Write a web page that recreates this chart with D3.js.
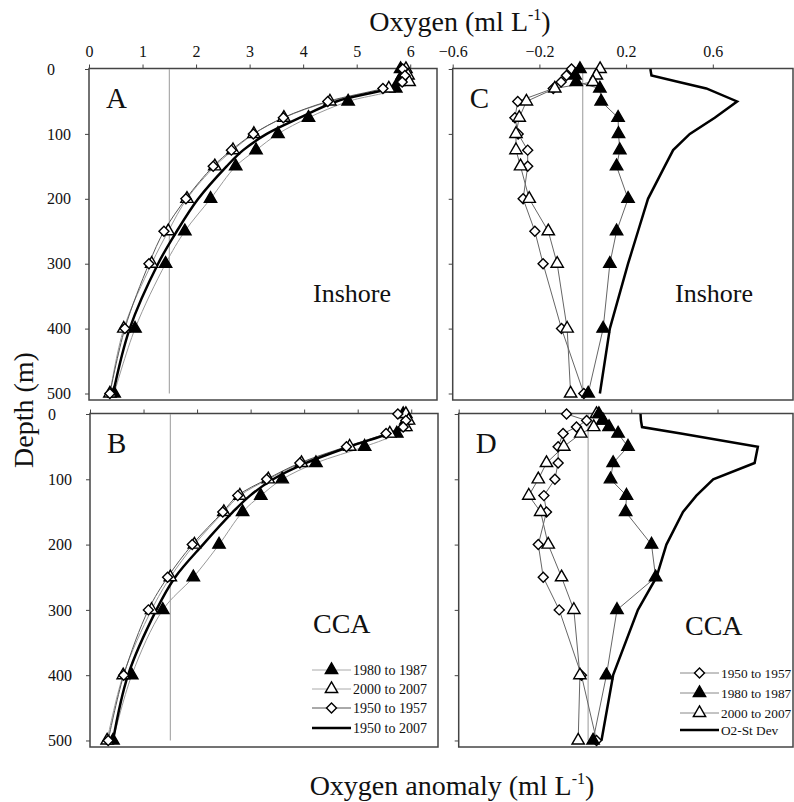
<!DOCTYPE html>
<html>
<head>
<meta charset="utf-8">
<title>Oxygen profiles</title>
<script src="https://d3js.org/d3.v7.min.js"></script>
<style>
body { margin: 0; background: #fff; }
text { font-family: "Liberation Serif", "Times New Roman", serif; fill: #111; }
</style>
</head>
<body>
<div id="chart"></div>
<script>
// depth levels (m)
var depth = [0, 10, 20, 30, 50, 75, 100, 125, 150, 200, 250, 300, 400, 500];

// A: Inshore oxygen (ml/L)
var o2A_1980 = [5.82, 5.85, 5.78, 5.73, 4.84, 4.10, 3.53, 3.12, 2.74, 2.27, 1.79, 1.43, 0.86, 0.47];
var o2A_2000 = [5.92, 5.96, 5.98, 5.60, 4.50, 3.64, 3.08, 2.69, 2.35, 1.83, 1.48, 1.17, 0.65, 0.39];
var o2A_1950 = [5.86, 5.90, 5.85, 5.49, 4.46, 3.63, 3.07, 2.66, 2.32, 1.81, 1.40, 1.12, 0.67, 0.39];
var o2A_mean = [5.86, 5.88, 5.84, 5.60, 4.62, 3.94, 3.32, 2.88, 2.57, 2.04, 1.64, 1.29, 0.76, 0.45];

// B: CCA oxygen (ml/L)
var o2B_1980 = [5.85, 5.90, 5.85, 5.73, 5.13, 4.22, 3.59, 3.19, 2.85, 2.41, 1.93, 1.36, 0.78, 0.43];
var o2B_2000 = [5.90, 5.95, 5.90, 5.60, 4.85, 3.95, 3.33, 2.80, 2.50, 1.95, 1.50, 1.15, 0.62, 0.32];
var o2B_1950 = [5.75, 5.90, 5.85, 5.53, 4.79, 3.92, 3.30, 2.76, 2.48, 1.91, 1.45, 1.09, 0.63, 0.34];
var o2B_mean = [5.80, 5.90, 5.85, 5.58, 4.85, 4.04, 3.42, 2.99, 2.67, 2.11, 1.59, 1.24, 0.71, 0.43];

// C: Inshore anomaly (ml/L)
var anC_1950 = [-0.052, -0.075, -0.10, -0.136, -0.30, -0.313, -0.298, -0.254, -0.254, -0.275, -0.221, -0.183, -0.098, 0.005];
var anC_1980 = [-0.013, -0.035, -0.03, 0.079, 0.085, 0.163, 0.165, 0.171, 0.156, 0.209, 0.156, 0.125, 0.094, 0.025];
var anC_2000 = [0.08, 0.063, 0.047, -0.129, -0.26, -0.293, -0.308, -0.308, -0.287, -0.247, -0.159, -0.118, -0.072, -0.056];
var sdC = [0.312, 0.317, 0.443, 0.57, 0.712, 0.609, 0.494, 0.417, 0.378, 0.301, 0.255, 0.209, 0.125, 0.079];

// D: CCA anomaly (ml/L)
var anD_1950 = [-0.10, -0.007, -0.054, -0.116, -0.139, -0.139, -0.154, -0.205, -0.193, -0.231, -0.208, -0.134, -0.031, 0.039];
var anD_1980 = [0.05, 0.07, 0.097, 0.139, 0.185, 0.116, 0.104, 0.178, 0.174, 0.294, 0.313, 0.134, 0.085, 0.023];
var anD_2000 = [0.039, 0.067, 0.026, -0.034, -0.113, -0.193, -0.231, -0.275, -0.22, -0.185, -0.123, -0.066, -0.038, -0.046];
var sdD = [0.243, 0.245, 0.25, 0.43, 0.787, 0.772, 0.58, 0.502, 0.44, 0.363, 0.317, 0.231, 0.116, 0.062];

var o2Ticks = [0, 1, 2, 3, 4, 5, 6];
var anTicks = [-0.6, -0.2, 0.2, 0.6];
var depthTicks = [0, 100, 200, 300, 400, 500];

var serif = '"Liberation Serif", "Times New Roman", serif';

var svg = d3.select("#chart").append("svg")
  .attr("width", 794)
  .attr("height", 802);

var tri = d3.symbol().type(d3.symbolTriangle).size(66);
var dia = d3.symbol().type(d3.symbolSquare).size(50);

function panel(o) {
  var x = d3.scaleLinear().domain(o.xdom).range([o.x0, o.x1]);
  var y = d3.scaleLinear().domain([0, 510]).range([o.y0, o.y1]);
  var g = svg.append("g");

  g.append("rect")
    .attr("x", o.x0).attr("y", o.y0 - 0.5)
    .attr("width", o.x1 - o.x0).attr("height", o.y1 - o.y0 + 0.5)
    .attr("fill", "none").attr("stroke", "#444").attr("stroke-width", 1.5);

  var ax = d3.axisTop(x).tickValues(o.xticks).tickSize(4).tickSizeOuter(0).tickPadding(8);
  if (o.xlabels) ax.tickFormat(o.fmt); else ax.tickFormat("");
  var gx = g.append("g").attr("transform", "translate(0," + (o.y0 - 0.5) + ")").call(ax);
  gx.select(".domain").remove();
  gx.selectAll("line").attr("stroke", "#444");
  gx.selectAll("text").attr("font-size", 16).style("font-family", serif).attr("fill", "#111");

  var ay = d3.axisLeft(y).tickValues(depthTicks).tickSize(4).tickSizeOuter(0);
  if (!o.ylabels) ay.tickFormat("");
  var gy = g.append("g").attr("transform", "translate(" + o.x0 + ",0)").call(ay);
  gy.select(".domain").remove();
  gy.selectAll("line").attr("stroke", "#444");
  gy.selectAll("text").attr("font-size", 16).style("font-family", serif).attr("fill", "#111")
    .attr("text-anchor", "start").attr("x", -42);

  // reference line
  g.append("line")
    .attr("x1", x(o.ref)).attr("x2", x(o.ref))
    .attr("y1", y(0)).attr("y2", y(500))
    .attr("stroke", "#999").attr("stroke-width", 1);

  var line = d3.line()
    .x(function(d) { return x(d[0]); })
    .y(function(d) { return y(d[1]); })
    .curve(o.smooth ? d3.curveCatmullRom : d3.curveLinear);

  o.series.forEach(function(s) {
    var pts = s.vals.map(function(v, i) { return [v, depth[i]]; });
    g.append("path").datum(pts)
      .attr("d", line)
      .attr("fill", "none")
      .attr("stroke", s.color)
      .attr("stroke-width", s.width);
  });
  o.series.forEach(function(s) {
    if (!s.marker) return;
    var pts = s.vals.map(function(v, i) { return [v, depth[i]]; });
    g.selectAll(null).data(pts).enter().append("path")
      .attr("d", s.marker === "dia" ? dia : tri)
      .attr("transform", function(d) {
        return "translate(" + x(d[0]) + "," + y(d[1]) + ")" + (s.marker === "dia" ? " rotate(45)" : "");
      })
      .attr("fill", s.fill)
      .attr("stroke", "#000")
      .attr("stroke-width", 1.4);
  });

  g.append("text").attr("x", o.x0 + 17).attr("y", o.y0 + 39)
    .attr("font-size", 29).style("font-family", serif).text(o.letter);
  g.append("text").attr("x", o.regionX).attr("y", o.regionY)
    .attr("font-size", o.regionSize).style("font-family", serif).text(o.region);
}

panel({
  x0: 89, x1: 437, y0: 69, y1: 400, xdom: [0, 6.5], xticks: o2Ticks, xlabels: true, ylabels: true,
  fmt: d3.format("d"), ref: 1.5, smooth: true, letter: "A", region: "Inshore", regionX: 313, regionY: 302, regionSize: 26,
  series: [
    {vals: o2A_1980, color: "#999", width: 1, marker: "tri", fill: "#000"},
    {vals: o2A_2000, color: "#999", width: 1, marker: "tri", fill: "#fff"},
    {vals: o2A_1950, color: "#555", width: 1, marker: "dia", fill: "#fff"},
    {vals: o2A_mean, color: "#000", width: 2.5}
  ]
});

panel({
  x0: 90, x1: 438, y0: 414, y1: 747, xdom: [0, 6.5], xticks: o2Ticks, xlabels: false, ylabels: true,
  ref: 1.5, smooth: true, letter: "B", region: "CCA", regionX: 313, regionY: 633, regionSize: 28,
  series: [
    {vals: o2B_1980, color: "#999", width: 1, marker: "tri", fill: "#000"},
    {vals: o2B_2000, color: "#999", width: 1, marker: "tri", fill: "#fff"},
    {vals: o2B_1950, color: "#555", width: 1, marker: "dia", fill: "#fff"},
    {vals: o2B_mean, color: "#000", width: 2.5}
  ]
});

panel({
  x0: 452.7, x1: 793, y0: 69, y1: 400, xdom: [-0.6, 0.97], xticks: anTicks, xlabels: true, ylabels: false,
  fmt: d3.format(".1f"), ref: 0, smooth: false, letter: "C", region: "Inshore", regionX: 675, regionY: 302, regionSize: 26,
  series: [
    {vals: sdC, color: "#000", width: 2.5},
    {vals: anC_1950, color: "#666", width: 1, marker: "dia", fill: "#fff"},
    {vals: anC_2000, color: "#666", width: 1, marker: "tri", fill: "#fff"},
    {vals: anC_1980, color: "#666", width: 1, marker: "tri", fill: "#000"}
  ]
});

panel({
  x0: 458.7, x1: 793, y0: 414, y1: 747, xdom: [-0.6, 0.95], xticks: anTicks, xlabels: false, ylabels: false,
  ref: 0, smooth: false, letter: "D", region: "CCA", regionX: 685, regionY: 635, regionSize: 28,
  series: [
    {vals: sdD, color: "#000", width: 2.5},
    {vals: anD_1950, color: "#666", width: 1, marker: "dia", fill: "#fff"},
    {vals: anD_2000, color: "#666", width: 1, marker: "tri", fill: "#fff"},
    {vals: anD_1980, color: "#666", width: 1, marker: "tri", fill: "#000"}
  ]
});

// legends
function legend(x0, size, rows) {
  var lg = svg.append("g");
  rows.forEach(function(r) {
    lg.append("line").attr("x1", x0).attr("x2", x0 + 39).attr("y1", r.y).attr("y2", r.y)
      .attr("stroke", r.color).attr("stroke-width", r.width);
    if (r.marker) {
      lg.append("path").attr("d", r.marker === "dia" ? dia : tri)
        .attr("transform", "translate(" + (x0 + 19.5) + "," + r.y + ")" + (r.marker === "dia" ? " rotate(45)" : ""))
        .attr("fill", r.fill).attr("stroke", "#000").attr("stroke-width", 1.4);
    }
    lg.append("text").attr("x", x0 + 41).attr("y", r.y + 5).attr("font-size", size)
      .style("font-family", serif).text(r.label);
  });
}
legend(312, 14, [
  {y: 670, label: "1980 to 1987", color: "#aaa", width: 1, marker: "tri", fill: "#000"},
  {y: 689, label: "2000 to 2007", color: "#aaa", width: 1, marker: "tri", fill: "#fff"},
  {y: 708, label: "1950 to 1957", color: "#555", width: 1, marker: "dia", fill: "#fff"},
  {y: 728, label: "1950 to 2007", color: "#000", width: 2.5}
]);
legend(680, 13.3, [
  {y: 673, label: "1950 to 1957", color: "#888", width: 1, marker: "dia", fill: "#fff"},
  {y: 693, label: "1980 to 1987", color: "#888", width: 1, marker: "tri", fill: "#000"},
  {y: 713, label: "2000 to 2007", color: "#888", width: 1, marker: "tri", fill: "#fff"},
  {y: 730, label: "O2-St Dev", color: "#000", width: 2.5}
]);

// axis titles
var t1 = svg.append("text").attr("x", 460).attr("y", 31).attr("text-anchor", "middle")
  .attr("font-size", 28).style("font-family", serif);
t1.append("tspan").text("Oxygen (ml L");
t1.append("tspan").attr("dy", -11).attr("font-size", 16).text("-1");
t1.append("tspan").attr("dy", 11).text(")");

var t2 = svg.append("text").attr("x", 452).attr("y", 795).attr("text-anchor", "middle")
  .attr("font-size", 28).style("font-family", serif);
t2.append("tspan").text("Oxygen anomaly (ml L");
t2.append("tspan").attr("dy", -11).attr("font-size", 16).text("-1");
t2.append("tspan").attr("dy", 11).text(")");

svg.append("text").attr("transform", "translate(33,410) rotate(-90)")
  .attr("text-anchor", "middle").attr("font-size", 28).style("font-family", serif).text("Depth (m)");
</script>
</body>
</html>
